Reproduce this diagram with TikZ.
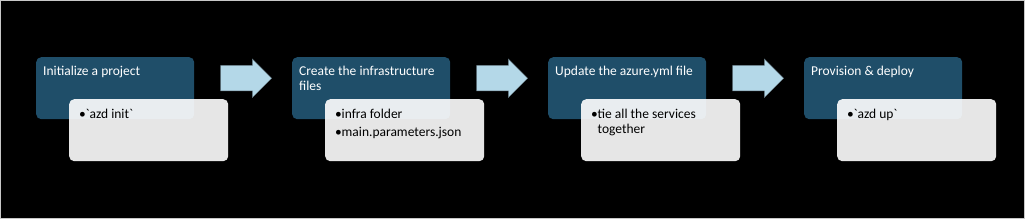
\documentclass[tikz,border=0pt]{standalone}
\usepackage{fontspec}
\setmainfont{Carlito}
\usetikzlibrary{shapes.arrows}
\usepackage{xcolor}

\definecolor{stepblue}{RGB}{31,78,105}
\definecolor{arrowblue}{RGB}{180,216,232}
\definecolor{framegray}{RGB}{200,200,200}

\newcommand{\bul}{\makebox[6.5pt][l]{\textbullet}}
\newcommand{\topline}{\rule{0pt}{10pt}}

\tikzset{
    stepbox/.style={fill=stepblue, rounded corners=5pt, minimum width=158, minimum height=62, anchor=north west, inner sep=0},
    notebox/.style={fill=white, fill opacity=0.9, rounded corners=5pt, minimum width=159, minimum height=62, anchor=north west, inner sep=0},
    steptext/.style={text=white, anchor=north west, align=left, inner sep=0, font=\fontsize{13.5}{15}\selectfont},
    notetext/.style={text=black, anchor=north west, align=left, inner sep=0, font=\fontsize{13.5}{15}\selectfont},
    flowarrow/.style={single arrow, fill=arrowblue, draw=arrowblue!55!black, line width=0.4pt, inner xsep=0, inner ysep=12.5, single arrow head extend=6.5, minimum height=51, anchor=tail}
}

\begin{document}
\begin{tikzpicture}[x=1pt, y=-1pt]
    % Fond
    \useasboundingbox (0,0) rectangle (1025,219);
    \fill[black] (0,0) rectangle (1025,219);
    \draw[framegray, line width=1.2] (0.6,0.6) rectangle (1024.4,218.4);

    % Etapas
    \foreach \i/\title/\items in {
        1/{Initialize a project}/{\bul\textasciigrave azd init\textasciigrave},
        2/{Create the infrastructure\\files}/{\bul infra folder\\[3pt]\bul main.parameters.json},
        3/{Update the azure.yml file}/{\bul tie all the services\\\hspace*{6.5pt}together},
        4/{Provision \& deploy}/{\bul\textasciigrave azd up\textasciigrave}} {
        \node[stepbox] (step\i) at ({36+256*(\i-1)}, 57) {};
        \node[steptext] (title\i) at ([shift={(7,8)}]step\i.north west) {\topline\title};
        \node[notebox] (note\i) at ({69+256*(\i-1)}, 99) {};
        \node[notetext] (items\i) at ([shift={(10,9)}]note\i.north west) {\topline\items};
    }

    % Setas
    \foreach \i in {1,2,3}
        \node[flowarrow] (arrow\i) at ([shift={(26,-10)}]step\i.east) {};
\end{tikzpicture}
\end{document}
